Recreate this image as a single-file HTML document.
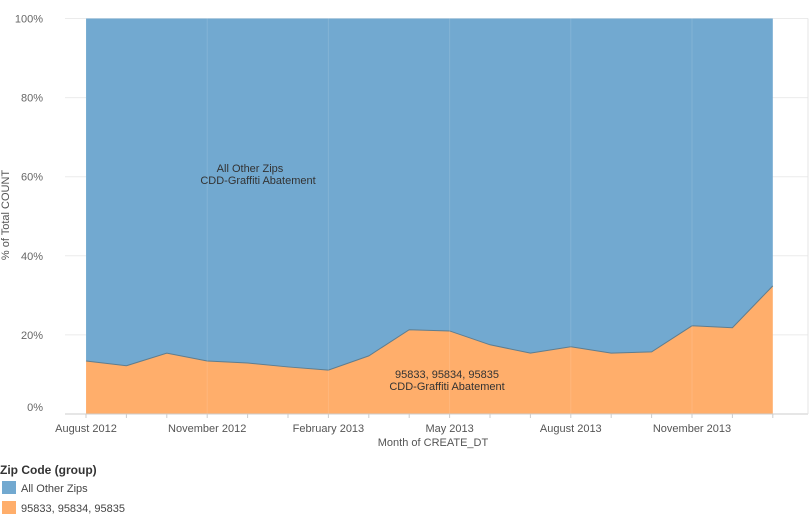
<!DOCTYPE html>
<html><head><meta charset="utf-8"><style>
body{margin:0;background:#fff;font-family:"Liberation Sans",sans-serif;}
svg text{font-family:"Liberation Sans",sans-serif;}
</style></head><body>
<svg id="chart" width="810" height="517" xmlns="http://www.w3.org/2000/svg">
<g id="grid"></g>
<g id="areas"></g>
<g id="axes"></g>
<g id="labels">
<text x="250" y="172" font-size="11" fill="#333" text-anchor="middle">All Other Zips</text>
<text x="258" y="184" font-size="11" fill="#333" text-anchor="middle">CDD-Graffiti Abatement</text>
<text x="447" y="378" font-size="11" fill="#333" text-anchor="middle">95833, 95834, 95835</text>
<text x="447" y="390" font-size="11" fill="#333" text-anchor="middle">CDD-Graffiti Abatement</text>
</g>
<text x="433" y="446" font-size="11" fill="#555" text-anchor="middle">Month of CREATE_DT</text>
<text transform="translate(9,215) rotate(-90)" font-size="11" fill="#555" text-anchor="middle">% of Total COUNT</text>
<g>
<text x="0" y="474" font-size="12" font-weight="bold" fill="#333">Zip Code (group)</text>
<g><rect x="2" y="481" width="14" height="13" fill="#72a9d0"/><text x="21" y="492" font-size="11" fill="#444">All Other Zips</text></g>
<g><rect x="2" y="501" width="14" height="13" fill="#ffae6b"/><text x="21" y="512" font-size="11" fill="#444">95833, 95834, 95835</text></g>
</g>
</svg>
<script>
const months = ["Aug 2012","Sep 2012","Oct 2012","Nov 2012","Dec 2012","Jan 2013","Feb 2013","Mar 2013","Apr 2013","May 2013","Jun 2013","Jul 2013","Aug 2013","Sep 2013","Oct 2013","Nov 2013","Dec 2013","Jan 2014"];
const zipShare = [13.4,12.2,15.4,13.4,12.9,11.9,11.1,14.7,21.3,21.0,17.5,15.4,17.0,15.4,15.7,22.3,21.8,32.4];
const yTicks = [0,20,40,60,80,100];
const xTickLabels = ["August 2012","November 2012","February 2013","May 2013","August 2013","November 2013"];
const xTickIdx = [0,3,6,9,12,15];

(function(){
const NS="http://www.w3.org/2000/svg";
const x0=86, dx=40.4, yBottom=414, yTop=18.5;
const X=i=>x0+i*dx;
const Y=v=>yBottom-(yBottom-yTop)*v/100;
function mk(tag,attrs,parent){const e=document.createElementNS(NS,tag);for(const k in attrs)e.setAttribute(k,attrs[k]);parent.appendChild(e);return e;}
const grid=document.getElementById('grid'),areas=document.getElementById('areas'),axes=document.getElementById('axes');
yTicks.forEach(t=>{
  const l=mk('line',{x1:65,x2:808,y1:Y(t),y2:Y(t),stroke:'#ebebeb'},grid);
  
  
  const tx=mk('text',{x:43,y:t===0?Y(t)-3:Y(t)+4,'font-size':11,fill:'#666','text-anchor':'end'},axes);
  tx.textContent=t+'%';
  
  
});
const n=months.length;
let topPath='M'+X(0)+','+Y(100)+' L'+X(n-1)+','+Y(100);
for(let i=n-1;i>=0;i--)topPath+=' L'+X(i)+','+Y(zipShare[i]);
topPath+='Z';
const a1=mk('path',{d:topPath,fill:'#72a9d0'},areas);


let botPath='M'+X(0)+','+Y(0);
for(let i=0;i<n;i++)botPath+=' L'+X(i)+','+Y(zipShare[i]);
botPath+=' L'+X(n-1)+','+Y(0)+'Z';
const a2=mk('path',{d:botPath,fill:'#ffae6b'},areas);


let linePath='M'+X(0)+','+Y(zipShare[0]);
for(let i=1;i<n;i++)linePath+=' L'+X(i)+','+Y(zipShare[i]);
const bl=mk('path',{d:linePath,fill:'none',stroke:'#5f7d8e','stroke-width':1},areas);


xTickIdx.forEach(i=>{
  const l=mk('line',{x1:X(i),x2:X(i),y1:yTop,y2:yBottom,stroke:'rgba(255,255,255,0.12)'},areas);
  
  
});
const ax=mk('line',{x1:65,x2:808,y1:yBottom,y2:yBottom,stroke:'#ccc'},axes);


const rb=mk('line',{x1:808,x2:808,y1:yTop,y2:yBottom,stroke:'#e4e4e4'},axes);


for(let i=0;i<n;i++){
  const t=mk('line',{x1:X(i),x2:X(i),y1:yBottom,y2:yBottom+4,stroke:'#ccc'},axes);
  
  
}
xTickIdx.forEach((i,k)=>{
  const tx=mk('text',{x:X(i),y:432,'font-size':11,fill:'#555','text-anchor':'middle'},axes);
  tx.textContent=xTickLabels[k];
  
  
});
})();
</script>
</body></html>
